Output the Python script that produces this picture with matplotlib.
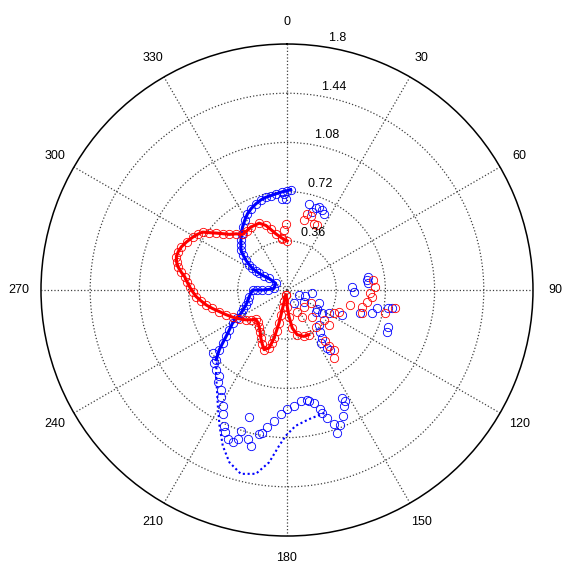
import numpy as np
import matplotlib
matplotlib.use('Agg')
import matplotlib.pyplot as plt

plt.rcParams['font.family'] = ['Liberation Sans', 'DejaVu Sans']

r_max = 1.8
r_ticks = [0.36, 0.72, 1.08, 1.44, 1.8]
theta_ticks = list(range(0, 360, 30))

# --- red series (angles in degrees, clockwise from north) ---
red_loop_theta = [0.3, 354.0, 348.7, 345.0, 341.9, 337.4, 330.2, 325.8, 321.4, 317.8,
                  314.0, 311.2, 308.8, 306.5, 304.5, 301.9, 299.4, 295.6, 292.2, 289.4,
                  286.7, 284.2, 282.0, 279.6, 277.4, 274.6, 271.9, 268.8, 265.8, 262.8,
                  259.5, 256.1, 252.3, 248.1, 243.5, 238.9, 234.0, 230.4, 226.9, 222.2,
                  217.3, 212.4, 208.6, 204.8, 201.0, 197.2, 196.2, 195.1, 194.4, 193.5,
                  193.5, 193.5, 193.8, 194.6]
red_loop_r = [0.359, 0.384, 0.420, 0.459, 0.497, 0.530, 0.531, 0.523, 0.521, 0.555,
              0.586, 0.626, 0.665, 0.706, 0.748, 0.771, 0.790, 0.815, 0.835, 0.844,
              0.845, 0.833, 0.815, 0.785, 0.755, 0.733, 0.713, 0.689, 0.666, 0.634,
              0.601, 0.562, 0.519, 0.482, 0.445, 0.408, 0.371, 0.343, 0.312, 0.319,
              0.336, 0.366, 0.400, 0.433, 0.467, 0.444, 0.405, 0.364, 0.306, 0.249,
              0.187, 0.125, 0.082, 0.038]

red_hook_theta = [188.0, 179.0, 175.7, 172.1, 167.1, 160.0, 153.9]
red_hook_r = [0.037, 0.121, 0.195, 0.281, 0.336, 0.361, 0.364]

red_pts_theta = [358.9, 357.1, 354.8, 14.8, 22.0, 25.0, 13.7, 18.0,
                 154.6, 134.5, 119.3, 150.2, 136.5, 129.0, 116.4, 112.7, 129.8, 142.0,
                 141.9, 143.2, 143.5, 145.5,
                 83.4, 87.9, 92.3, 98.3, 102.5, 103.3, 103.3, 99.6, 107.2, 94.5]
red_pts_r = [0.485, 0.437, 0.378, 0.577, 0.523, 0.522, 0.524, 0.566,
             0.175, 0.173, 0.198, 0.224, 0.268, 0.346, 0.382, 0.410, 0.398, 0.339,
             0.554, 0.470, 0.513, 0.603,
             0.637, 0.645, 0.609, 0.590, 0.561, 0.476, 0.737, 0.802, 0.573, 0.622]

# --- blue series ---
blue_arc_theta = [2.1, 0.2, 356.8, 353.3, 350.3, 347.1, 343.7, 340.1, 336.3, 332.6,
                  328.7, 324.8, 321.1, 317.2, 314.2, 310.8, 308.5, 306.0, 303.9, 302.0,
                  301.3, 300.8, 301.3, 303.0, 300.7, 277.4, 271.5, 270.0, 270.0, 270.0,
                  260.0, 254.4, 250.0, 246.1, 243.3, 240.6, 238.7, 235.4, 232.7, 230.5,
                  228.6, 225.5]
blue_arc_r = [0.735, 0.727, 0.718, 0.708, 0.701, 0.696, 0.686, 0.670, 0.651, 0.628,
              0.596, 0.564, 0.530, 0.496, 0.470, 0.445, 0.409, 0.371, 0.333, 0.298,
              0.266, 0.237, 0.196, 0.156, 0.096, 0.095, 0.138, 0.180, 0.218, 0.252,
              0.281, 0.298, 0.320, 0.350, 0.377, 0.422, 0.466, 0.512, 0.560, 0.610,
              0.660, 0.727]

blue_low_theta = [229.7, 224.9, 221.6, 218.1, 216.6, 213.5, 211.4, 209.0, 207.1, 204.7,
                  203.4, 201.7, 199.6, 198.3, 198.1, 194.8, 193.0, 190.9, 189.8, 188.1,
                  185.6, 182.9, 179.9, 176.6, 173.0, 169.6, 168.9, 166.7, 164.3, 164.0,
                  162.6, 160.8, 160.7, 158.5, 156.2, 154.0, 152.3, 152.9, 196.9]
blue_low_r = [0.712, 0.752, 0.778, 0.801, 0.842, 0.873, 0.921, 0.970, 1.021, 1.095,
              1.134, 1.174, 1.184, 1.149, 1.084, 1.129, 1.170, 1.074, 1.058, 1.016,
              0.962, 0.910, 0.873, 0.850, 0.818, 0.818, 0.830, 0.852, 0.906, 0.933,
              0.978, 1.040, 1.105, 1.063, 1.007, 0.945, 0.918, 0.884, 0.968]

blue_dot_theta = [227.8, 220.6, 210.8, 206.4, 202.4, 198.5, 194.1, 189.6, 185.9,
                  182.9, 180.5, 176.4, 170.4, 162.6]
blue_dot_r = [0.685, 0.798, 0.988, 1.110, 1.233, 1.329, 1.387, 1.364, 1.267,
              1.141, 1.067, 0.996, 0.959, 0.940]

blue_pts_theta = [358.2, 357.1, 359.2, 14.2, 21.0, 25.8, 17.9, 23.8, 19.3,
                  112.6, 124.5, 97.4, 112.6, 152.2, 127.1, 122.3, 123.4, 119.0, 114.3,
                  137.6, 141.1, 143.8, 145.3, 143.9, 147.7, 108.4,
                  87.1, 91.5, 82.9, 85.3, 80.9, 107.5, 105.3, 101.5, 100.2, 99.9,
                  112.6, 109.8]
blue_pts_r = [0.704, 0.668, 0.667, 0.650, 0.649, 0.619, 0.598, 0.636, 0.639,
              0.095, 0.150, 0.186, 0.252, 0.109, 0.262, 0.258, 0.308, 0.349, 0.441,
              0.345, 0.390, 0.435, 0.515, 0.540, 0.459, 0.138,
              0.476, 0.487, 0.588, 0.598, 0.597, 0.562, 0.643, 0.670, 0.754, 0.777,
              0.790, 0.788]

fig = plt.figure(figsize=(5.63, 5.68), dpi=100)
ax = fig.add_axes([0.0728, 0.0563, 0.8739, 0.8662], projection='polar')
ax.set_theta_zero_location('N')
ax.set_theta_direction(-1)
ax.set_ylim(0, r_max)
ax.set_yticks(r_ticks[:-1])
ax.set_yticklabels([])
ax.set_xticks(np.deg2rad(theta_ticks))
ax.set_xticklabels([])
ax.set_axisbelow(True)
ax.grid(True, color='0.25', linestyle=':', linewidth=0.9)
ax.spines['polar'].set_linewidth(1.1)

for t in theta_ticks:
    ax.text(np.deg2rad(t), 1.09 * r_max, str(t), ha='center', va='center', fontsize=9)
for rt in r_ticks:
    ax.text(np.deg2rad(8), rt + 0.018, '  ' + str(rt), ha='left', va='bottom', fontsize=9)

circ = dict(marker='o', markersize=6, markerfacecolor='none', markeredgewidth=0.6)

def deg(a):
    return np.deg2rad(a)

ax.plot(deg(blue_arc_theta), blue_arc_r, '-', color='b', lw=2.2, **circ, markeredgecolor='b')
ax.plot(deg(blue_low_theta), blue_low_r, linestyle='none', **circ, markeredgecolor='b')
ax.plot(deg(blue_dot_theta), blue_dot_r, color='b', lw=1.5, linestyle=(0, (1, 1.3)))
ax.plot(deg(blue_pts_theta), blue_pts_r, linestyle='none', **circ, markeredgecolor='b')

ax.plot(deg(red_loop_theta), red_loop_r, '-', color='r', lw=2.2, **circ, markeredgecolor='r')
ax.plot(deg(red_hook_theta), red_hook_r, '-', color='r', lw=2.2, **circ, markeredgecolor='r')
ax.plot(deg(red_pts_theta), red_pts_r, linestyle='none', **circ, markeredgecolor='r')

fig.savefig('out.png', dpi=100)
